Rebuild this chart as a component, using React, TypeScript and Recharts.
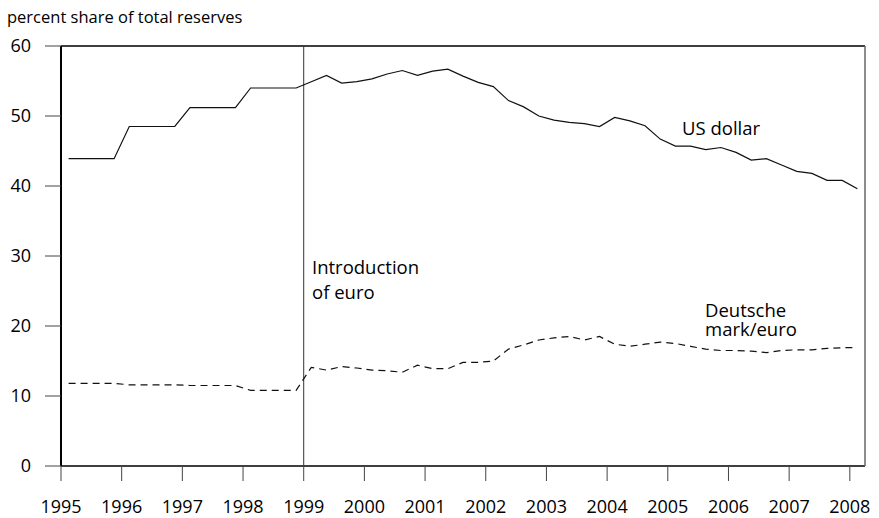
import React from 'react'
import { LineChart, Line, XAxis, YAxis, ReferenceLine } from 'recharts'

// quarterly observations, 1995Q1 .. 2008Q1
const years = [1995, 1996, 1997, 1998, 1999, 2000, 2001, 2002, 2003, 2004, 2005, 2006, 2007, 2008]
const quarters = [1, 2, 3, 4]

const usDollar = [
  43.9, 43.9, 43.9, 43.9,
  48.5, 48.5, 48.5, 48.5,
  51.2, 51.2, 51.2, 51.2,
  54.0, 54.0, 54.0, 54.0,
  54.9, 55.8, 54.7, 54.9,
  55.3, 56.0, 56.5, 55.8,
  56.4, 56.7, 55.7, 54.8,
  54.2, 52.2, 51.3, 50.0,
  49.4, 49.1, 48.9, 48.5,
  49.8, 49.3, 48.6, 46.7,
  45.7, 45.7, 45.2, 45.5,
  44.8, 43.7, 43.9, 43.0,
  42.1, 41.8, 40.8, 40.8,
  39.6,
]

const markEuro = [
  11.8, 11.8, 11.8, 11.8,
  11.6, 11.6, 11.6, 11.6,
  11.5, 11.5, 11.5, 11.5,
  10.8, 10.8, 10.8, 10.8,
  14.1, 13.7, 14.2, 14.0,
  13.7, 13.6, 13.4, 14.4,
  13.9, 13.9, 14.8, 14.8,
  15.0, 16.7, 17.3, 18.0,
  18.3, 18.5, 18.0, 18.5,
  17.4, 17.1, 17.4, 17.7,
  17.5, 17.1, 16.7, 16.5,
  16.5, 16.4, 16.2, 16.5,
  16.6, 16.6, 16.8, 16.9,
  16.9,
]

const xTicks = years
const yTicks = [0, 10, 20, 30, 40, 50, 60]

const FONT = '"Open Sans", sans-serif'

const data = years
  .flatMap((y) => quarters.map((q) => y + (q - 0.5) / 4))
  .slice(0, usDollar.length)
  .map((t, i) => ({ t, usd: usDollar[i], eur: markEuro[i] }))

const labelStyle: React.CSSProperties = {
  position: 'absolute',
  fontFamily: FONT,
  fontSize: 18.5,
  color: '#000',
  lineHeight: 1,
  whiteSpace: 'nowrap',
}

export default function App() {
  return (
    <div style={{ position: 'absolute', left: 0, top: 0, width: 879, height: 518, background: '#fff' }}>
      <LineChart
        width={879}
        height={518}
        data={data}
        margin={{ top: 46, right: 14, bottom: 0, left: 0 }}
      >
        <XAxis
          dataKey="t"
          type="number"
          domain={[1995, 2008.25]}
          ticks={xTicks}
          allowDecimals={false}
          height={52}
          axisLine={false}
          tickLine={{ stroke: '#444', strokeWidth: 1 }}
          tickSize={15}
          tickMargin={19}
          tick={{ fill: '#000', fontSize: 18, fontFamily: FONT }}
        />
        <YAxis
          type="number"
          domain={[0, 60]}
          ticks={yTicks}
          width={61}
          axisLine={{ stroke: '#000', strokeWidth: 2 }}
          tickLine={{ stroke: '#444', strokeWidth: 1 }}
          tickSize={16}
          tickMargin={14}
          tick={{ fill: '#000', fontSize: 18, fontFamily: FONT }}
        />
        <ReferenceLine y={60} stroke="#000" strokeWidth={1.5} />
        <ReferenceLine y={0} stroke="#000" strokeWidth={1.5} />
        <ReferenceLine x={1999} stroke="#333" strokeWidth={1} />
        <ReferenceLine x={2008.25} stroke="#666" strokeWidth={1.5} />
        <Line
          dataKey="usd"
          stroke="#111"
          strokeWidth={1.2}
          dot={false}
          isAnimationActive={false}
        />
        <Line
          dataKey="eur"
          stroke="#111"
          strokeWidth={1.2}
          strokeDasharray="7 5"
          dot={false}
          isAnimationActive={false}
        />
      </LineChart>
      <div style={{ ...labelStyle, fontSize: 16.5, left: 7, top: 9 }}>percent share of total reserves</div>
      <div style={{ ...labelStyle, left: 682, top: 119 }}>US dollar</div>
      <div style={{ ...labelStyle, left: 312, top: 258 }}>Introduction</div>
      <div style={{ ...labelStyle, left: 312, top: 283 }}>of euro</div>
      <div style={{ ...labelStyle, left: 705, top: 301 }}>Deutsche</div>
      <div style={{ ...labelStyle, left: 705, top: 320 }}>mark/euro</div>
    </div>
  )
}
